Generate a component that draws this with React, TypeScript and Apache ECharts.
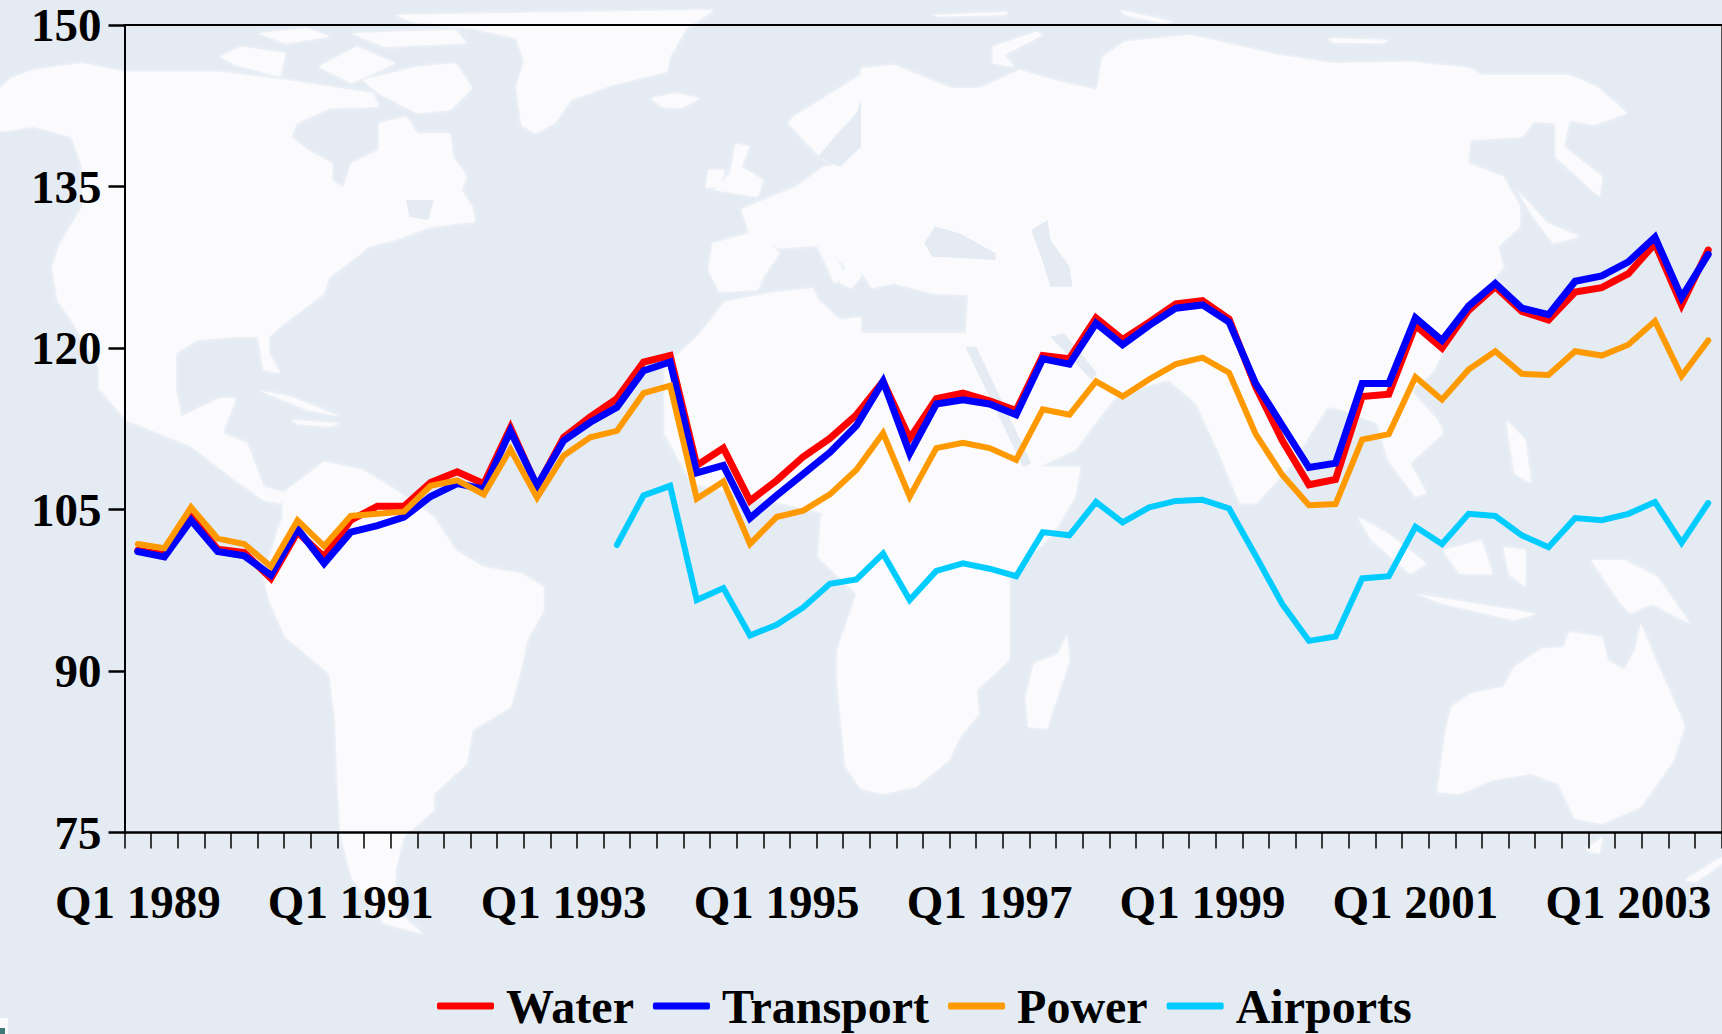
import React, { useEffect, useRef } from "react";
import * as echarts from "echarts";

const years = [1989,1990,1991,1992,1993,1994,1995,1996,1997,1998,1999,2000,2001,2002,2003];
const quarters = ["Q1","Q2","Q3","Q4"];
const categories: string[] = [];
years.forEach((y) => quarters.forEach((q) => categories.push(q + " " + y)));

const yTicks = { min: 75, max: 150, step: 15 };

const water = [101.2,100.8,104.3,101.3,101.0,98.6,102.9,100.6,104.0,105.3,105.3,107.5,108.5,107.4,112.6,107.1,111.7,113.6,115.3,118.7,119.3,109.1,110.7,105.8,107.7,109.9,111.6,113.8,116.9,111.6,115.3,115.8,115.1,114.2,119.3,119.0,122.8,120.8,122.4,124.1,124.4,122.7,116.4,111.4,107.3,107.8,115.5,115.7,122.1,120.0,123.5,125.7,123.4,122.6,125.2,125.6,126.9,129.7,124.0,129.1];
const transport = [101.1,100.6,104.0,101.1,100.7,98.9,103.2,100.0,102.9,103.5,104.3,106.2,107.4,106.9,112.3,107.2,111.4,113.1,114.5,117.9,118.7,108.4,109.1,104.2,106.3,108.3,110.3,112.8,116.9,110.2,114.8,115.2,114.8,113.8,119.0,118.5,122.3,120.3,122.1,123.7,124.0,122.4,116.7,112.8,108.9,109.3,116.7,116.7,122.8,120.7,123.9,126.0,123.7,123.1,126.2,126.7,128.0,130.3,124.7,128.7];
const power = [101.8,101.4,105.2,102.3,101.8,99.7,104.0,101.6,104.4,104.6,104.8,107.2,107.7,106.4,110.6,106.1,110.0,111.7,112.3,115.8,116.5,106.0,107.6,101.8,104.3,104.9,106.4,108.7,112.1,106.2,110.7,111.2,110.7,109.6,114.3,113.8,116.9,115.5,117.1,118.5,119.1,117.7,112.0,108.2,105.4,105.5,111.5,112.0,117.3,115.2,118.0,119.7,117.6,117.5,119.7,119.3,120.3,122.5,117.4,120.7];
const airports = [null,null,null,null,null,null,null,null,null,null,null,null,null,null,null,null,null,null,101.7,106.3,107.2,96.6,97.7,93.3,94.3,95.9,98.1,98.5,100.9,96.6,99.3,100.0,99.5,98.8,102.9,102.6,105.7,103.8,105.2,105.8,105.9,105.1,100.7,96.2,92.8,93.2,98.6,98.8,103.4,101.8,104.6,104.4,102.6,101.5,104.2,104.0,104.6,105.7,101.9,105.6];

const seriesNames = ["Water","Transport","Power","Airports"];
const seriesColors = ["#ff0000","#0000ff","#ff9900","#00ccff"];
const seriesWidths = [7,7,6,6];

// Background world map, traced loosely. Each outline is a list of [quadrant, x, y, x, y ...] runs.
type Run = (string | number)[];
const landOutlines: Run[][] = [
  // North and Central America
  [["a",0,265,20,235,60,210,150,190,225,215,400,215,520,240,600,260,680,280,690,320,600,325,540,370,530,410,560,450,605,490,605,540,625,565,640,490,690,450,690,370,740,350,760,400,820,400,825,470,850,530,840,570,860,620,865,665,785,680,720,720,670,740,650,770,600,830,590,880,510,980,490,1010,490,1060,510,1120,480,1110,470,1010,430,1010,360,1020,320,1060,320,1170,330,1250,400,1195,430,1195,405,1300,450,1330,480,1460,520,1480,510,1510,480,1500,420,1430,350,1340,230,1260,180,1165,180,1100,130,960,105,900,95,800,110,730,150,620,150,500,130,410,60,380,0,395]],
  // South America
  [["a",515,1551,515,1480,590,1385,660,1410,720,1470,790,1551],["c",830,100,880,150,950,170,990,210,990,280,960,370,950,450,930,570,860,640,850,740,790,830,790,880,735,960,720,1060,720,1180,770,1250,700,1220,640,1080,620,950,615,800,610,600,600,470,520,360,490,250,480,180,510,20]],
  // Greenland
  [["a",720,45,1300,30,1250,85,1220,170,1215,215,1115,255,1040,300,1010,370,975,400,950,375,940,260,955,185,940,115,860,85,750,65]],
  // Arctic islands
  [["a",400,170,440,140,520,160,510,230,430,195]],
  [["a",470,100,560,85,600,110,520,130]],
  [["a",580,200,650,140,720,190,640,250]],
  [["a",660,240,760,200,830,190,860,265,820,330,760,340,690,280]],
  [["a",640,100,830,90,850,130,700,140]],
  // Iceland, Britain, Ireland
  [["a",1185,295,1230,280,1275,295,1240,325,1205,320]],
  [["a",1340,430,1365,440,1350,500,1390,540,1380,590,1300,570,1330,520]],
  [["a",1290,510,1320,510,1310,560,1285,565]],
  // Eurasia
  [["a",1350,628,1450,560,1500,500,1550,490,1500,480,1470,430,1435,370,1445,350,1568,225],
   ["b",0,205,60,195,165,265,215,265,290,210,350,240,430,270,440,170,480,125,600,105,680,135,760,165,860,190,1000,185,1110,205,1130,225,1290,225,1340,260,1395,340,1335,375,1290,360,1280,440,1350,530,1345,590,1265,470,1265,370,1225,365,1205,410,1110,420,1105,490,1170,530,1200,620,1200,680,1160,740,1170,800,1130,880,1080,990,1040,1120,1000,1170,1050,1260,1060,1300,1000,1390,1030,1480,1010,1490,960,1380,940,1270,880,1230,850,1220,780,1400,720,1510,690,1510,650,1350,610,1210,560,1140,470,1180,440,1240,390,1350,310,1410,265,1280,190,1040,195,885,130,880,60,850,20,865,0,810],
   ["a",1568,830,1550,865,1530,850,1540,800,1500,735,1420,745,1400,728,1420,760,1390,830,1380,870,1310,875,1290,810,1298,730,1365,700]],
  // Italy
  [["a",1485,725,1510,730,1540,830,1520,850]],
  // Africa
  [["a",1320,905,1400,880,1480,865,1490,900,1530,960,1568,950],["b",0,1000,190,1000,190,1040,300,1400,400,1400,390,1490],["d",350,50,270,180,270,320,270,430,210,520,215,590,180,660,160,730,100,810,40,830,0,815],["c",1540,750,1525,500,1525,400,1560,230,1490,120,1495,0],["a",1500,1540,1370,1490,1260,1450,1210,1300,1210,1100,1270,1010]],
  // Madagascar
  [["d",375,355,380,430,345,600,340,635,305,630,300,540,315,440,360,410]],
  // Australia, Tasmania, New Zealand
  [["d",1065,640,1075,570,1110,530,1170,510,1190,450,1240,395,1280,390,1290,345,1350,360,1360,430,1390,460,1410,400,1420,320,1450,440,1500,625,1480,730,1420,870,1350,920,1300,905,1270,800,1220,770,1150,790,1090,830,1050,825]],
  [["d",1320,1000,1350,960,1345,1010]],
  [["d",1500,1090,1568,1020,1568,1040,1520,1095]],
  // Indonesia, Philippines, New Guinea, Japan
  [["d",905,0,960,50,1030,140,1000,170,930,70]],
  [["d",1010,230,1120,260,1230,290,1190,310,1060,260]],
  [["d",1060,100,1130,70,1150,170,1090,170]],
  [["d",1170,90,1210,100,1210,210,1180,170]],
  [["d",1330,130,1390,130,1450,180,1510,320,1440,260,1400,290,1380,250]],
  [["b",1175,1260,1210,1320,1220,1450,1190,1420]],
  [["b",1195,570,1250,670,1310,710,1260,730,1220,640]],
  // Arctic Russia
  [["b",240,140,320,95,330,105,260,165,280,200,240,190]],
  [["b",130,45,270,35,260,45,140,50]],
  [["b",470,30,570,65,550,70,480,45]],
  [["b",850,115,960,120,950,130,860,128]],
  // Caribbean
  [["a",470,1170,530,1190,620,1250,560,1230]],
  [["a",530,1260,620,1270,600,1280,540,1272]],
];
const waterOutlines: Run[][] = [
  [["b",310,690,340,660,345,720,380,800,385,860,345,860,330,780]],
  [["b",115,730,135,680,180,700,245,760,245,780,130,770]],
  [["b",345,1010,370,1000,430,1120,420,1140]],
  [["b",190,1040,210,1040,310,1390,295,1400]],
  [["a",1490,470,1520,410,1560,340,1568,300,1568,440,1530,500]],
  [["a",740,600,790,600,780,660,745,650]],
];
const quadrantOrigin: Record<string, number[]> = { a: [0,0], b: [861,0], c: [0,517], d: [861,517] };
const toPoints = (runs: Run[]) => {
  const pts: number[][] = [];
  runs.forEach((r) => {
    const o = quadrantOrigin[r[0] as string];
    for (let i = 1; i < r.length; i += 2) pts.push([o[0] + (r[i] as number) / 1.8212, o[1] + (r[i + 1] as number) / 3]);
  });
  return pts;
};

const BG = "#e4ebf3";
const LAND = "#fbfbfd";
const FONT = "'Liberation Serif', serif";

export default function App() {
  const ref = useRef<HTMLDivElement>(null);
  useEffect(() => {
    document.body.style.margin = "0";
    document.documentElement.style.overflow = "hidden";
    const chart = echarts.init(ref.current!, undefined, { renderer: "svg" });
    const label = { fontFamily: FONT, fontWeight: "bold" as const, fontSize: 47, color: "#000" };
    const mapGraphic = [
      ...landOutlines.map((o) => ({ type: "polygon", silent: true, z: -10, shape: { points: toPoints(o) }, style: { fill: LAND, shadowBlur: 4, shadowColor: LAND } })),
      ...waterOutlines.map((o) => ({ type: "polygon", silent: true, z: -9, shape: { points: toPoints(o) }, style: { fill: BG } })),
      { type: "rect", silent: true, z: -9, shape: { x: 0, y: 1018, width: 8, height: 16 }, style: { fill: LAND } },
      { type: "rect", silent: true, z: -8, shape: { x: 0, y: 1028, width: 5, height: 6 }, style: { fill: "#3f7a78" } },
    ];
    chart.setOption({
      animation: false,
      backgroundColor: BG,
      graphic: mapGraphic,
      grid: { left: 124.5, top: 25, width: 1597, height: 807.5, containLabel: false },
      legend: {
        left: 437,
        top: 982,
        padding: 0,
        itemWidth: 57,
        itemHeight: 7,
        itemGap: 19,
        icon: "roundRect",
        selectedMode: false,
        data: seriesNames,
        textStyle: { ...label, fontSize: 48, padding: [0, 0, 0, 7] },
      },
      xAxis: [
        {
          type: "category",
          data: categories,
          boundaryGap: true,
          axisLine: { show: true, onZero: false, lineStyle: { color: "#000", width: 2.5 } },
          axisTick: { show: true, interval: 0, length: 16, lineStyle: { color: "#000", width: 1.5 } },
          axisLabel: { ...label, interval: 7, margin: 46, hideOverlap: false },
          splitLine: { show: false },
        },
        {
          type: "category",
          position: "top",
          data: categories,
          axisLine: { show: true, lineStyle: { color: "#000", width: 2 } },
          axisTick: { show: false },
          axisLabel: { show: false },
        },
      ],
      yAxis: [
        {
          type: "value",
          min: yTicks.min,
          max: yTicks.max,
          interval: yTicks.step,
          axisLine: { show: true, onZero: false, lineStyle: { color: "#000", width: 2 } },
          axisTick: { show: true, length: 16, lineStyle: { color: "#000", width: 2.5 } },
          axisLabel: { ...label, margin: 23, padding: [14, 0, 0, 0] },
          splitLine: { show: false },
        },
        {
          type: "value",
          position: "right",
          min: yTicks.min,
          max: yTicks.max,
          interval: yTicks.step,
          axisLine: { show: true, onZero: false, lineStyle: { color: "#555", width: 1 } },
          axisTick: { show: false },
          axisLabel: { show: false },
          splitLine: { show: false },
        },
      ],
      series: [water, transport, power, airports].map((d, i) => ({
        name: seriesNames[i],
        type: "line",
        data: d,
        symbol: "none",
        connectNulls: false,
        itemStyle: { color: seriesColors[i] },
        lineStyle: { color: seriesColors[i], width: seriesWidths[i], cap: "round", join: "miter", miterLimit: 4 },
      })),
    });
    return () => chart.dispose();
  }, []);
  return <div ref={ref} style={{ width: 1722, height: 1034 }} />;
}
